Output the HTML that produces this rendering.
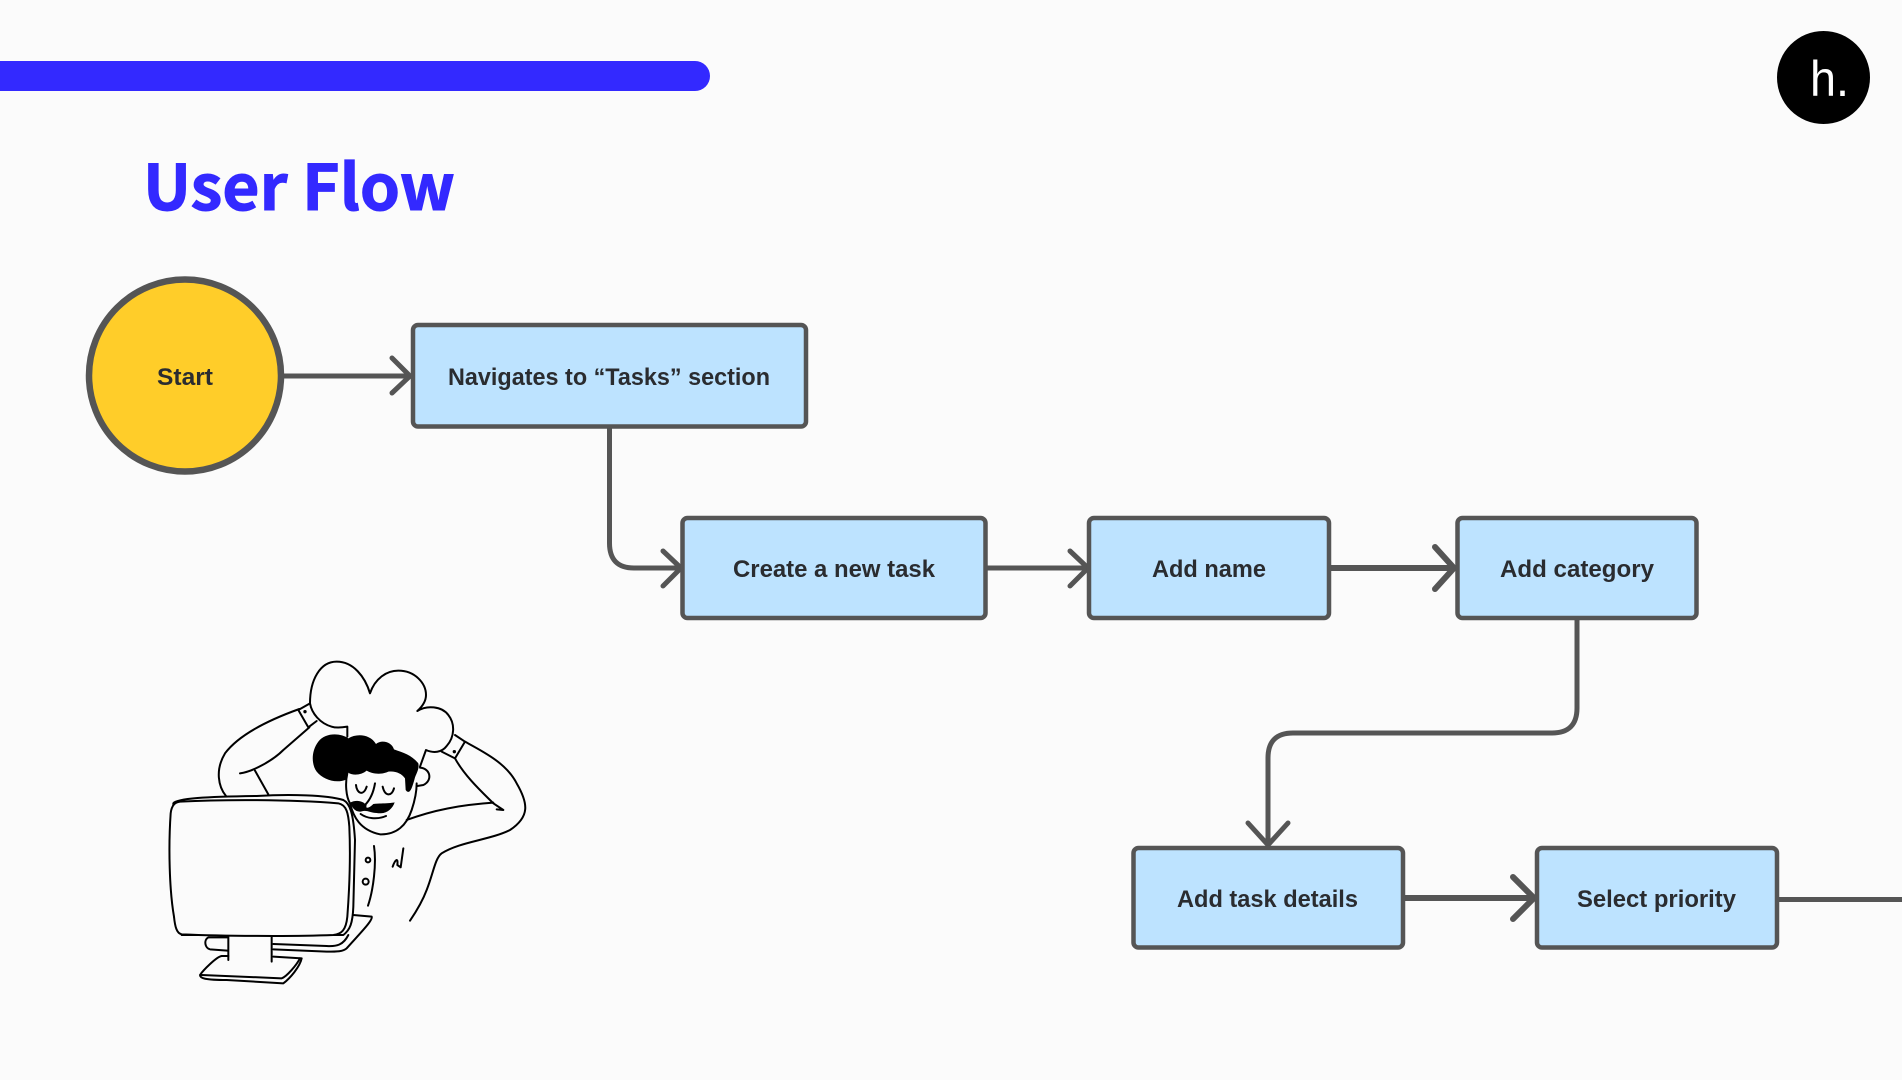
<!DOCTYPE html>
<html><head><meta charset="utf-8"><style>
html,body{margin:0;padding:0;background:#FBFBFB}
svg{display:block}
.l{font-family:"Liberation Sans",sans-serif;font-weight:700;font-size:24px;fill:#2A2C30}
.b{fill:#BDE3FF;stroke:#555;stroke-width:4.500}
.c{fill:none;stroke:#555;stroke-width:5;stroke-linecap:round;stroke-linejoin:round}
.i{fill:none;stroke:#000;stroke-width:6;stroke-linecap:round;stroke-linejoin:round}
</style></head><body>
<svg width="1902" height="1080" viewBox="0 0 1902 1080" xmlns="http://www.w3.org/2000/svg">
<rect width="1902" height="1080" fill="#FBFBFB"/>
<path d="M0 61H695a15 15 0 0 1 0 30H0Z" fill="#3329FF"/>
<text x="143" y="210" font-family="'Noto Sans CJK JP','Liberation Sans',sans-serif" font-weight="700" font-size="63" fill="#3329FF" stroke="#3329FF" stroke-width="1" textLength="312" lengthAdjust="spacingAndGlyphs">User Flow</text>
<circle cx="1823.500" cy="77.500" r="46.500" fill="#000"/>
<text x="1810" y="96" font-family="'Liberation Sans',sans-serif" font-size="50" fill="#fff" textLength="39" lengthAdjust="spacingAndGlyphs">h.</text>

<!-- connectors -->
<path class="c" d="M284 376H408M392 358L410 376L392 393"/>
<path class="c" d="M609.500 428V543Q609.500 568 634 568H679M663 551L681 568L663 586"/>
<path class="c" d="M987 568H1086M1070 551L1088 568L1070 586"/>
<path class="c" style="stroke-width:6" d="M1331 568H1453M1435 547L1454 568L1435 589"/>
<path class="c" d="M1577 619V708Q1577 733 1552 733H1293Q1268 733 1268 758V843M1248 823L1268 845L1288 823"/>
<path class="c" style="stroke-width:6" d="M1404 898H1533M1513 877L1534 898L1513 919"/>
<path style="fill:none;stroke:#555;stroke-width:5" d="M1779 899.500H1902"/>

<!-- nodes -->
<circle cx="185" cy="375.500" r="96" fill="#FFCD29" stroke="#555" stroke-width="6.500"/>
<rect class="b" x="413" y="325" width="393" height="101.500" rx="5"/>
<rect class="b" x="682.500" y="518" width="303" height="100" rx="5"/>
<rect class="b" x="1089" y="518" width="240" height="100" rx="5"/>
<rect class="b" x="1457.500" y="518" width="239" height="100" rx="5"/>
<rect class="b" x="1133.500" y="848" width="269.500" height="99.500" rx="5"/>
<rect class="b" x="1537" y="848" width="240" height="99.500" rx="5"/>

<text class="l" x="157" y="385" textLength="56" lengthAdjust="spacingAndGlyphs">Start</text>
<text class="l" x="448" y="385" textLength="322" lengthAdjust="spacingAndGlyphs">Navigates to “Tasks” section</text>
<text class="l" x="733" y="577" textLength="202" lengthAdjust="spacingAndGlyphs">Create a new task</text>
<text class="l" x="1152" y="577" textLength="114" lengthAdjust="spacingAndGlyphs">Add name</text>
<text class="l" x="1500" y="577" textLength="154" lengthAdjust="spacingAndGlyphs">Add category</text>
<text class="l" x="1177" y="907" textLength="181" lengthAdjust="spacingAndGlyphs">Add task details</text>
<text class="l" x="1577" y="907" textLength="159" lengthAdjust="spacingAndGlyphs">Select priority</text>

<!-- illustration -->
<g transform="translate(140 640) scale(.33333)">
<path class="i" d="M510 190C510 120 540 65 590 65C640 65 675 110 690 160C705 115 740 92 775 92C825 92 858 130 858 165C858 180 852 195 832 213C860 195 905 198 925 225C945 250 945 290 920 318C905 338 880 340 858 330L840 380"/>
<path class="i" d="M510 190C515 220 540 250 575 260C590 265 610 262 622 260V290"/>
<path class="i" d="M475 210L510 190M475 210L505 262L530 243"/>
<circle cx="495" cy="215" r="5" fill="#000"/>
<path class="i" d="M478 207C400 235 300 280 255 340C225 390 235 440 258 468"/>
<path class="i" d="M300 400C340 395 400 360 430 330L508 262M345 392L385 463"/>
<path class="i" d="M905 335L945 355L975 305L945 285"/>
<circle cx="943" cy="335" r="5" fill="#000"/>
<path class="i" d="M975 305C1030 335 1100 370 1130 430C1165 490 1170 530 1110 570C1050 600 960 605 905 640C885 655 880 700 860 750C845 790 825 820 810 842"/>
<path class="i" d="M945 355C975 410 1030 460 1060 490L1090 510L1070 508"/>
<path class="i" d="M800 540C880 510 960 495 1060 488"/>
<path class="i" d="M622 400C615 430 618 470 630 490C640 530 660 570 720 583C770 585 800 555 815 510C825 480 830 450 830 430"/>
<path class="i" d="M840 383C870 385 880 420 850 435L832 438"/>
<path fill="#000" d="M625 295C600 278 555 278 535 305C512 335 515 375 530 395C550 420 590 432 620 418L624 398C640 408 665 405 680 392C695 402 725 405 745 395C765 392 785 400 795 415L797 450C808 465 815 450 825 412C832 395 838 385 835 370C815 345 790 338 762 328C755 305 725 298 708 312C690 282 650 280 625 295Z"/>
<path class="i" d="M648 435C650 460 670 470 680 440M728 440C735 470 755 470 762 445M705 430C700 460 690 480 675 495M662 522C680 535 710 540 738 528"/>
<path fill="#000" d="M630 488C650 478 670 483 680 497C675 508 690 503 700 492C720 490 750 490 764 487C757 508 737 524 710 519C690 518 680 509 665 514C650 518 638 508 630 488Z"/>
<circle class="i" cx="684" cy="660" r="7"/><circle class="i" cx="677" cy="725" r="9"/>
<path class="i" d="M702 618C710 670 700 750 684 797M758 680C765 660 775 650 772 675L782 682L790 625"/>
<path class="i" d="M640 825L695 830C700 840 660 880 620 925C610 935 590 935 560 935L400 928"/>
<path class="i" d="M625 885C610 915 590 920 560 918L400 912"/>
<path class="i" d="M262 892H205C190 900 195 925 210 928L262 932"/>
<path class="i" d="M265 888V960M395 888V965"/>
<path class="i" d="M265 948H245C230 950 190 990 180 1005C180 1015 195 1020 260 1020L430 1030C450 1015 480 980 485 955L400 950"/>
<path class="i" d="M185 1005L425 1015C440 1010 470 975 480 955"/>
<path class="i" style="fill:#FBFBFB" d="M100 490C110 475 200 470 350 468C450 462 560 465 610 480C630 490 640 520 645 600L640 800C638 850 630 870 610 885H125L102 830Z"/>
<path class="i" style="fill:#FBFBFB" d="M120 485C250 478 450 478 595 490C620 495 625 520 628 560C632 650 628 750 622 830C618 870 605 882 580 885C450 890 250 888 125 883C110 880 105 860 102 830C88 750 85 620 92 520C95 495 105 487 120 485Z"/>
</g>
</svg>
</body></html>
